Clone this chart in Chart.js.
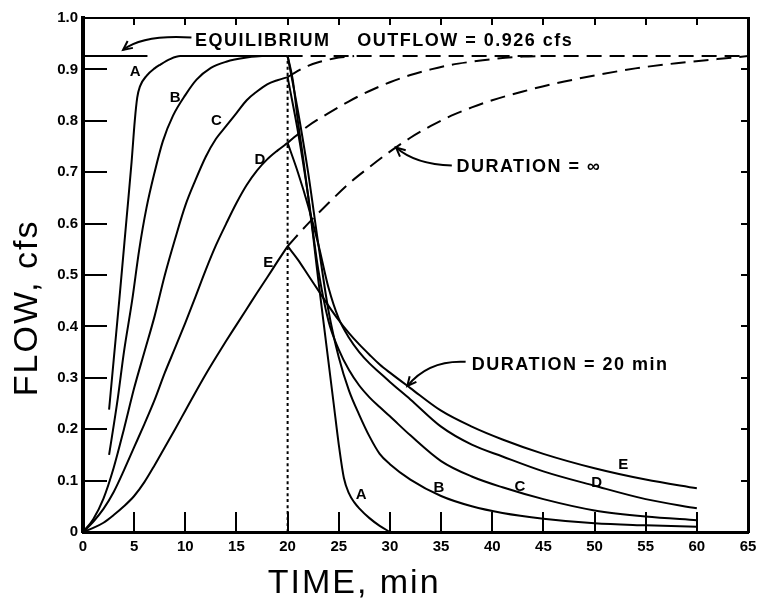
<!DOCTYPE html>
<html>
<head>
<meta charset="utf-8">
<script src="https://cdn.jsdelivr.net/npm/chart.js@4.4.1/dist/chart.umd.min.js"></script>
<style>
html,body{margin:0;padding:0;background:#fff;}
#wrap{width:761px;height:598px;}
</style>
</head>
<body>
<div id="wrap"><canvas id="c" width="761" height="598"></canvas></div>
<script>
// ---------- tick labels ----------
const xTickValues = [0,5,10,15,20,25,30,35,40,45,50,55,60,65];
const xTickLabels = ['0','5','10','15','20','25','30','35','40','45','50','55','60','65'];
const yTickValues = [0,0.1,0.2,0.3,0.4,0.5,0.6,0.7,0.8,0.9,1.0];
const yTickLabels = ['0','0.1','0.2','0.3','0.4','0.5','0.6','0.7','0.8','0.9','1.0'];

// ---------- constants ----------
const curveNames = ['A','B','C','D','E'];
const equilibriumFlow = 0.926;   // cfs
const rainStop = 20;             // min
const equilibriumSolidEnd = 6.3; // min (drawn reference segment)
const plotEnd = 65;

// ---------- rising limbs (min, cfs) ----------
const riseTimeA = [2.55,3.0,3.55,4.25,4.75,5.06,5.3,5.57,6.23,7.0,7.53,8.5,9.5,20];
const riseFlowA = [0.238,0.335,0.452,0.608,0.72,0.80,0.845,0.867,0.888,0.902,0.909,0.92,0.926,0.926];
const riseTimeB = [2.55,3.4,4.0,4.8,5.5,6.2,7.0,7.8,8.8,10,11.1,12.5,14,16,17.5,20];
const riseFlowB = [0.15,0.26,0.35,0.45,0.55,0.63,0.70,0.76,0.81,0.85,0.88,0.903,0.915,0.923,0.926,0.926];
const riseTime  = [0,1,2,3,4,5,6,7,8,9,10,11,12,13,14,15,16,17,18,19,20];
const riseFlowC = [0,0.025,0.065,0.125,0.2,0.28,0.35,0.42,0.5,0.57,0.635,0.685,0.73,0.765,0.79,0.815,0.84,0.857,0.871,0.879,0.885];
const riseFlowD = [0,0.02,0.045,0.078,0.12,0.165,0.21,0.257,0.31,0.358,0.407,0.458,0.51,0.558,0.6,0.64,0.675,0.703,0.725,0.742,0.757];
const riseFlowE = [0,0.008,0.018,0.033,0.05,0.07,0.097,0.13,0.165,0.2,0.236,0.272,0.307,0.34,0.372,0.403,0.434,0.465,0.495,0.526,0.556];

// ---------- recession limbs, duration = 20 min ----------
const recTimeA = [20,20.5,21,21.5,22,22.5,23,23.5,24,24.5,25,25.5,26,26.5,27,28,29,30];
const recFlowA = [0.926,0.88,0.80,0.73,0.655,0.575,0.49,0.41,0.33,0.25,0.17,0.105,0.075,0.058,0.046,0.027,0.012,0];
const recTime  = [20,21,22,23,24,25,26,27,28,29,30,32,35,38,41,45,50,55,60];
const recFlowB = [0.926,0.82,0.70,0.56,0.43,0.34,0.275,0.228,0.186,0.152,0.132,0.102,0.07,0.05,0.037,0.026,0.017,0.013,0.010];
const recFlowC = [0.885,0.78,0.655,0.51,0.41,0.355,0.315,0.285,0.262,0.243,0.225,0.188,0.138,0.108,0.087,0.064,0.042,0.03,0.023];
const recFlowD = [0.757,0.70,0.635,0.56,0.475,0.415,0.378,0.35,0.328,0.31,0.292,0.258,0.205,0.17,0.147,0.118,0.09,0.064,0.046];
const recFlowE = [0.556,0.53,0.50,0.47,0.44,0.412,0.387,0.365,0.345,0.326,0.31,0.28,0.236,0.205,0.18,0.152,0.124,0.102,0.085];

// ---------- continuation, duration = infinity (dashed) ----------
const infTimeC = [20,21,22,23,24,25,26.5];
const infFlowC = [0.885,0.897,0.907,0.914,0.919,0.923,0.926];
const infTimeD = [20,22,24,26,28,30,32,34,36,38,40,43,45];
const infFlowD = [0.757,0.79,0.815,0.838,0.858,0.875,0.889,0.9,0.909,0.915,0.92,0.925,0.926];
const infTimeE = [20,22,24,26,28,30,32,34,36,38,40,43,46,50,54,58,62,65];
const infFlowE = [0.556,0.6,0.64,0.678,0.71,0.74,0.767,0.79,0.81,0.826,0.84,0.857,0.872,0.888,0.902,0.912,0.92,0.926];

// ---------- helpers ----------
const pts = (xs, ys) => xs.map((v, i) => ({x: v, y: ys[i]}));
const solid = (xs, ys) => ({data: pts(xs, ys), borderColor: '#000', borderWidth: 2, pointRadius: 0, fill: false, cubicInterpolationMode: 'monotone'});
const dashed = (xs, ys) => Object.assign(solid(xs, ys), {borderDash: [15, 8]});

const datasets = [
  solid(riseTimeA, riseFlowA), solid(riseTimeB, riseFlowB),
  solid(riseTime, riseFlowC), solid(riseTime, riseFlowD), solid(riseTime, riseFlowE),
  solid(recTimeA, recFlowA), solid(recTime, recFlowB), solid(recTime, recFlowC),
  solid(recTime, recFlowD), solid(recTime, recFlowE),
  dashed(infTimeC, infFlowC), dashed(infTimeD, infFlowD), dashed(infTimeE, infFlowE),
  solid([0, equilibriumSolidEnd], [equilibriumFlow, equilibriumFlow]),
  dashed([rainStop, plotEnd], [equilibriumFlow, equilibriumFlow]),
  Object.assign(solid([rainStop, rainStop], [0, equilibriumFlow]), {borderDash: [3, 3], borderWidth: 2})
];

// ---------- annotation plugin ----------
const annotations = {
  riseLabels: [[5.1,0.896],[9.0,0.845],[13.05,0.799],[17.3,0.724],[18.1,0.523]],
  recLabels:  [[27.2,0.072],[34.8,0.085],[42.7,0.088],[50.2,0.095],[52.8,0.13]],
  texts: [
    {t: 'EQUILIBRIUM', x: 10.95, y: 0.956},
    {t: 'OUTFLOW = ' + equilibriumFlow + ' cfs', x: 26.8, y: 0.956},
    {t: 'DURATION = \u221E', x: 36.5, y: 0.711},
    {t: 'DURATION = ' + rainStop + ' min', x: 38.0, y: 0.325}
  ],
  arrows: [
    [[10.6,0.962],[5.9,0.968],[3.92,0.938]],
    [[36.05,0.713],[32.5,0.715],[30.6,0.748]],
    [[37.4,0.331],[33.8,0.335],[31.7,0.284]]
  ]
};

const annotPlugin = {
  id: 'annot',
  afterDatasetsDraw(chart) {
    const {ctx, chartArea} = chart;
    const sx = chart.scales.x, sy = chart.scales.y;
    const P = (a) => [sx.getPixelForValue(a[0]), sy.getPixelForValue(a[1])];
    ctx.save();
    ctx.fillStyle = '#000';
    ctx.strokeStyle = '#000';
    ctx.textAlign = 'center';
    ctx.textBaseline = 'middle';
    ctx.font = 'bold 15px "Liberation Sans"';
    annotations.riseLabels.forEach((p, i) => { const q = P(p); ctx.fillText(curveNames[i], q[0], q[1]); });
    annotations.recLabels.forEach((p, i) => { const q = P(p); ctx.fillText(curveNames[i], q[0], q[1]); });
    ctx.textAlign = 'left';
    ctx.font = 'bold 18px "Liberation Sans"';
    ctx.letterSpacing = '1.5px';
    annotations.texts.forEach(o => { const q = P([o.x, o.y]); ctx.fillText(o.t, q[0], q[1]); });
    ctx.letterSpacing = '0px';
    ctx.lineWidth = 2;
    annotations.arrows.forEach(a => {
      const s = P(a[0]), c = P(a[1]), e = P(a[2]);
      ctx.beginPath(); ctx.moveTo(s[0], s[1]); ctx.quadraticCurveTo(c[0], c[1], e[0], e[1]); ctx.stroke();
      const ang = Math.atan2(e[1] - c[1], e[0] - c[0]);
      const L = 10;
      ctx.beginPath();
      ctx.moveTo(e[0] - L * Math.cos(ang - 0.45), e[1] - L * Math.sin(ang - 0.45));
      ctx.lineTo(e[0], e[1]);
      ctx.lineTo(e[0] - L * Math.cos(ang + 0.45), e[1] - L * Math.sin(ang + 0.45));
      ctx.stroke();
    });
    // axis titles
    ctx.font = '34px "Liberation Sans"';
    ctx.letterSpacing = '2px';
    ctx.textAlign = 'center';
    ctx.textBaseline = 'alphabetic';
    ctx.fillText('TIME, min', sx.getPixelForValue(26.5), chartArea.bottom + 61);
    ctx.translate(chartArea.left - 46, sy.getPixelForValue(0.436));
    ctx.rotate(-Math.PI / 2);
    ctx.fillText('FLOW, cfs', 0, 0);
    ctx.restore();
  }
};

const tickFont = {family: 'Liberation Sans', size: 15, weight: 'bold'};
const setX = s => { s.ticks = xTickValues.map(v => ({value: v})); };
const setY = s => { s.ticks = yTickValues.map(v => ({value: v})); };
const fitX = h => s => { s.height = h; s.paddingLeft = 0; s.paddingRight = 0; };
const fitY = w => s => { s.width = w; s.paddingTop = 0; s.paddingBottom = 0; };
const border = {display: true, color: '#000', width: 3};

new Chart(document.getElementById('c'), {
  type: 'line',
  data: {datasets},
  plugins: [annotPlugin],
  options: {
    responsive: false,
    animation: false,
    devicePixelRatio: 1,
    layout: {padding: {top: 18, right: 13, left: 0, bottom: 0}},
    plugins: {legend: {display: false}, tooltip: {enabled: false}},
    scales: {
      x: {
        type: 'linear', position: 'bottom', min: 0, max: 65,
        afterBuildTicks: setX,
        afterFit: fitX(66),
        ticks: {callback: (v, i) => xTickLabels[i], font: tickFont, color: '#000', padding: 26, maxRotation: 0, autoSkip: false},
        grid: {display: true, drawOnChartArea: false, drawTicks: true, tickLength: -20, color: '#000', lineWidth: 2},
        border
      },
      x2: {
        type: 'linear', position: 'top', min: 0, max: 65,
        afterBuildTicks: setX,
        afterFit: fitX(0),
        ticks: {display: false},
        grid: {display: true, drawOnChartArea: false, drawTicks: true, tickLength: -7, color: '#000', lineWidth: 2},
        border: {display: true, color: '#000', width: 2}
      },
      y: {
        type: 'linear', position: 'left', min: 0, max: 1.0,
        afterBuildTicks: setY,
        afterFit: fitY(83),
        ticks: {callback: (v, i) => yTickLabels[i], font: tickFont, color: '#000', padding: 29, autoSkip: false},
        grid: {display: true, drawOnChartArea: false, drawTicks: true, tickLength: -24, color: '#000', lineWidth: 2},
        border: {display: true, color: '#000', width: 4}
      },
      y2: {
        type: 'linear', position: 'right', min: 0, max: 1.0,
        afterBuildTicks: setY,
        afterFit: fitY(0),
        ticks: {display: false},
        grid: {display: true, drawOnChartArea: false, drawTicks: true, tickLength: -7, color: '#000', lineWidth: 2},
        border
      }
    }
  }
});
</script>
</body>
</html>
